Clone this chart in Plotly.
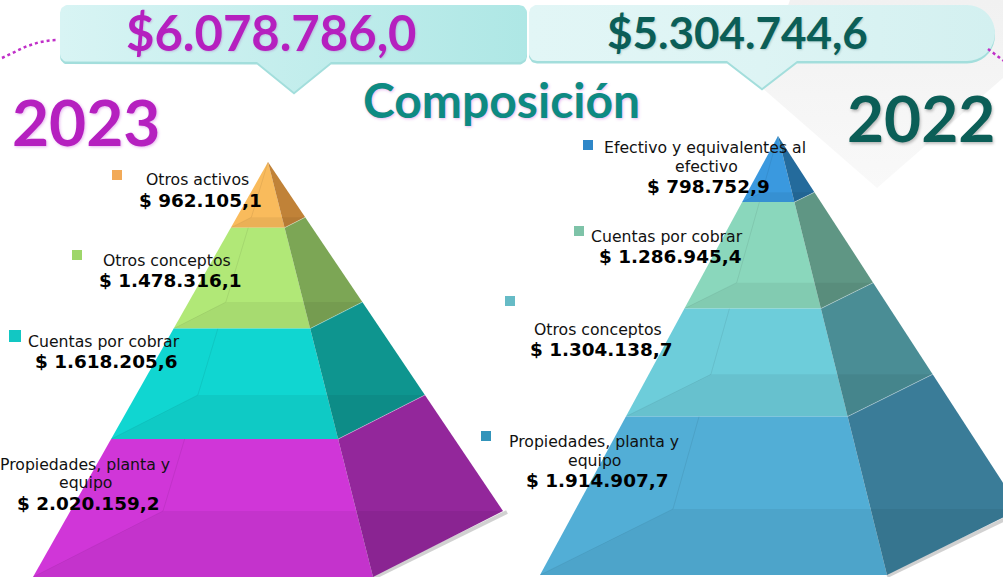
import numpy as np
import plotly.graph_objects as go

# ---------------- data ----------------
cats_2023 = ["Otros activos", "Otros conceptos", "Cuentas por cobrar", "Propiedades, planta y equipo"]
vals_2023 = [962105.1, 1478316.1, 1618205.6, 2020159.2]
total_2023 = 6078786.0

cats_2022 = ["Efectivo y equivalentes al efectivo", "Cuentas por cobrar", "Otros conceptos", "Propiedades, planta y equipo"]
vals_2022 = [798752.9, 1286945.4, 1304138.7, 1914907.7]
total_2022 = 5304744.6

title_text = "Composición"
year_a = "2023"
year_b = "2022"

# ---------------- styles ----------------
front_2023 = ["#F9BB5C", "#B1E877", "#10D6D1", "#D036D8"]
side_2023 = ["#C08238", "#7CA655", "#0E958F", "#93279B"]
mark_2023 = ["#F2AA58", "#9ED66A", "#12C7C3", "#C02FC8"]
front_2022 = ["#3A99DF", "#8AD7BC", "#6DCDDA", "#52AED6"]
side_2022 = ["#246B9C", "#5F9684", "#4A8D95", "#3A7C98"]
mark_2022 = ["#2F87C8", "#7EC3A8", "#66BBC6", "#3294BA"]

PURPLE = "#B520BF"
TEAL = "#0E8A82"
DTEAL = "#0B5E57"


def fmt(v):
    s = f"{v:,.1f}"
    return s.replace(",", "X").replace(".", ",").replace("X", ".")


fig = go.Figure()


def poly(xs, ys, color, line=None, **kw):
    fig.add_trace(go.Scatter(x=list(xs) + [xs[0]], y=list(ys) + [ys[0]], mode="lines",
                             fill="toself", fillcolor=color,
                             line=line or dict(width=0, color=color),
                             hoverinfo="skip", showlegend=False, **kw))


def seg(p, q, color, width=1, dash=None):
    fig.add_trace(go.Scatter(x=[p[0], q[0]], y=[p[1], q[1]], mode="lines",
                             line=dict(color=color, width=width, dash=dash),
                             hoverinfo="skip", showlegend=False))


# background faint shape (top right)
gx = [790, 1003, 1003, 877, 760]
gy = [0, 0, 78, 188, 86]
fig.add_trace(go.Scatter(x=gx + [gx[0]], y=gy + [gy[0]], mode="lines", fill="toself",
                         fillgradient=dict(type="vertical", colorscale=[[0, "#F9F9F9"], [1, "#F1F1F1"]]),
                         line=dict(width=0), hoverinfo="skip", showlegend=False))


def rounded_box(x0, y0, x1, y1, rl, rr, ptr):
    px0, px1, tipy = ptr
    pts = []
    def arc(cx, cy, r, a0, a1, n=10):
        for a in np.linspace(a0, a1, n):
            pts.append((cx + r * np.cos(a), cy + r * np.sin(a)))
    arc(x0 + rl, y0 + rl, rl, np.pi, 1.5 * np.pi)
    arc(x1 - rr, y0 + rr, rr, 1.5 * np.pi, 2 * np.pi)
    arc(x1 - rr, y1 - rr, rr, 0, 0.5 * np.pi)
    pts.append((px1, y1))
    pts.append(((px0 + px1) / 2, tipy))
    pts.append((px0, y1))
    arc(x0 + rl, y1 - rl, rl, 0.5 * np.pi, np.pi)
    xs = [p[0] for p in pts]
    ys = [p[1] for p in pts]
    return xs, ys


def banner(x0, y0, x1, y1, rl, rr, ptr, cs):
    xs, ys = rounded_box(x0, y0, x1, y1, rl, rr, ptr)
    poly(xs, [y + 2.5 for y in ys], "#A3DEDC")
    fig.add_trace(go.Scatter(x=xs + [xs[0]], y=ys + [ys[0]], mode="lines", fill="toself",
                             fillgradient=dict(type="horizontal", colorscale=cs),
                             line=dict(width=0), hoverinfo="skip", showlegend=False))


banner(529, 5, 995, 61, 8, 28, (727, 797, 88),
       [[0, "#E2F6F6"], [0.5, "#DDF4F4"], [1, "#D3F0F0"]])
banner(60, 5, 527, 62, 8, 8, (257, 331, 92),
       [[0, "#D8F4F4"], [1, "#AEE7E5"]])

# dotted decorative curves
tt = np.linspace(0, 1, 30)
fig.add_trace(go.Scatter(x=2 + 55 * tt, y=58 - 18 * np.sin(tt * np.pi / 2), mode="lines",
                         line=dict(color="#C02FC8", width=2.5, dash="dot"), hoverinfo="skip", showlegend=False))
fig.add_trace(go.Scatter(x=988 + 16 * tt, y=49 + 12 * tt, mode="lines",
                         line=dict(color="#C02FC8", width=2.5, dash="dot"), hoverinfo="skip", showlegend=False))


def pyramid(vals, apex, base_y, fl_x, fr_x, depth, fronts, sides):
    ax, ay = apex
    dx, dy = depth
    FL = (fl_x, base_y)
    FR = (fr_x, base_y)
    BR = (fr_x + dx, base_y + dy)
    BL = (fl_x + dx, base_y + dy)

    def P(c, t):
        return (ax + t * (c[0] - ax), ay + t * (c[1] - ay))

    v = np.array(vals, dtype=float)
    cum = np.cumsum(v) / v.sum()
    t0s = np.concatenate([[0.0], cum[:-1]])
    seg((FR[0], FR[1] + 1), (BR[0] + 4, BR[1] + 1), "rgba(0,0,0,0.18)", 4)
    for i, (t0, t1) in enumerate(zip(t0s, cum)):
        a, b, c, d = P(FL, t0), P(FR, t0), P(FR, t1), P(FL, t1)
        poly([a[0], b[0], c[0], d[0]], [a[1], b[1], c[1], d[1]], fronts[i])
        e, f = P(BR, t0), P(BR, t1)
        poly([b[0], e[0], f[0], c[0]], [b[1], e[1], f[1], c[1]], sides[i])
        g = P(BL, t1)
        poly([d[0], c[0], f[0], g[0]], [d[1], c[1], f[1], g[1]], "rgba(0,0,0,0.055)")
        ts = t0 * (FL[1] - ay) / (BL[1] - ay)
        seg(g, P(BL, ts), "rgba(0,0,0,0.07)", 1)
        seg(d, g, "rgba(0,0,0,0.06)", 1)
        if i > 0:
            seg(b, e, "rgba(255,255,255,0.35)", 1)


pyramid(vals_2023, (268, 162), 577, 33, 373, (130, -66), front_2023, side_2023)
pyramid(vals_2022, (778, 136), 575, 540, 887, (133, -66), front_2022, side_2022)

# ---------------- labels ----------------
lab_2023 = [
    dict(m=(117, 175, 10), lines=[(197, 179)], val=(200, 200)),
    dict(m=(77, 255, 10), lines=[(167, 260)], val=(170, 280)),
    dict(m=(15, 336, 12), lines=[(104, 341)], val=(106, 361)),
    dict(m=None, lines=[(85, 464), (85, 482)], val=(88, 503)),
]
lab_2022 = [
    dict(m=(588, 145, 10), lines=[(705, 147), (706, 166)], val=(708, 186)),
    dict(m=(579, 231, 10), lines=[(667, 236)], val=(670, 256)),
    dict(m=(510, 301, 10), lines=[(598, 329)], val=(601, 349)),
    dict(m=(486, 436, 10), lines=[(594, 441), (594, 460)], val=(597, 480)),
]

wrap = {"Efectivo y equivalentes al efectivo": ["Efectivo y equivalentes al", "efectivo"],
        "Propiedades, planta y equipo": ["Propiedades, planta y", "equipo"]}

LABEL_FONT = "DejaVu Sans, Verdana, sans-serif"


def add_labels(cats, vals, labs, marks):
    for cat, v, lab, mc in zip(cats, vals, labs, marks):
        if lab["m"] is not None:
            mx, my, ms = lab["m"]
            fig.add_trace(go.Scatter(x=[mx], y=[my], mode="markers",
                                     marker=dict(symbol="square", size=ms, color=mc, line=dict(width=0)),
                                     hoverinfo="skip", showlegend=False))
        lines = wrap.get(cat, [cat])
        for txt, (lx, ly) in zip(lines, lab["lines"]):
            fig.add_annotation(x=lx, y=ly, text=txt, showarrow=False, xanchor="center", yanchor="middle",
                               font=dict(family=LABEL_FONT, size=15.7, color="#111111"))
        vx, vy = lab["val"]
        fig.add_annotation(x=vx, y=vy, text="<b>$ " + fmt(v) + "</b>", showarrow=False,
                           xanchor="center", yanchor="middle",
                           font=dict(family=LABEL_FONT, size=18.4, color="#000000"))


add_labels(cats_2023, vals_2023, lab_2023, mark_2023)
add_labels(cats_2022, vals_2022, lab_2022, mark_2022)

TITLE_FONT = "Lato, Open Sans, sans-serif"
fig.add_annotation(x=271, y=32, text="<b>$" + fmt(total_2023) + "</b>", showarrow=False,
                   xanchor="center", yanchor="middle",
                   font=dict(family=TITLE_FONT, size=49, color=PURPLE,
                             shadow="1px 1px 2px rgba(160,60,180,0.25)"))
fig.add_annotation(x=737, y=32, text="<b>$" + fmt(total_2022) + "</b>", showarrow=False,
                   xanchor="center", yanchor="middle",
                   font=dict(family=TITLE_FONT, size=44, color=DTEAL,
                             shadow="1px 1px 2px rgba(0,60,60,0.2)"))
fig.add_annotation(x=501, y=99, text="<b>" + title_text + "</b>", showarrow=False,
                   xanchor="center", yanchor="middle",
                   font=dict(family=TITLE_FONT, size=48, color=TEAL,
                             shadow="1px 1px 3px rgba(200,90,220,0.45)"))
fig.add_annotation(x=86, y=121, text="<b>" + year_a + "</b>", showarrow=False,
                   xanchor="center", yanchor="middle",
                   font=dict(family=TITLE_FONT, size=64, color=PURPLE,
                             shadow="1px 1px 3px rgba(200,90,220,0.45)"))
fig.add_annotation(x=921, y=117, text="<b>" + year_b + "</b>", showarrow=False,
                   xanchor="center", yanchor="middle",
                   font=dict(family=TITLE_FONT, size=64, color=DTEAL,
                             shadow="1px 2px 3px rgba(0,0,0,0.25)"))

fig.update_layout(
    width=1003, height=577,
    margin=dict(l=0, r=0, t=0, b=0),
    paper_bgcolor="white", plot_bgcolor="white",
    showlegend=False,
    xaxis=dict(range=[0, 1003], visible=False, fixedrange=True),
    yaxis=dict(range=[577, 0], visible=False, fixedrange=True),
)

fig.write_html("out.html", config={"staticPlot": True},
               post_script="document.body.style.margin='0';document.body.style.overflow='hidden';")
